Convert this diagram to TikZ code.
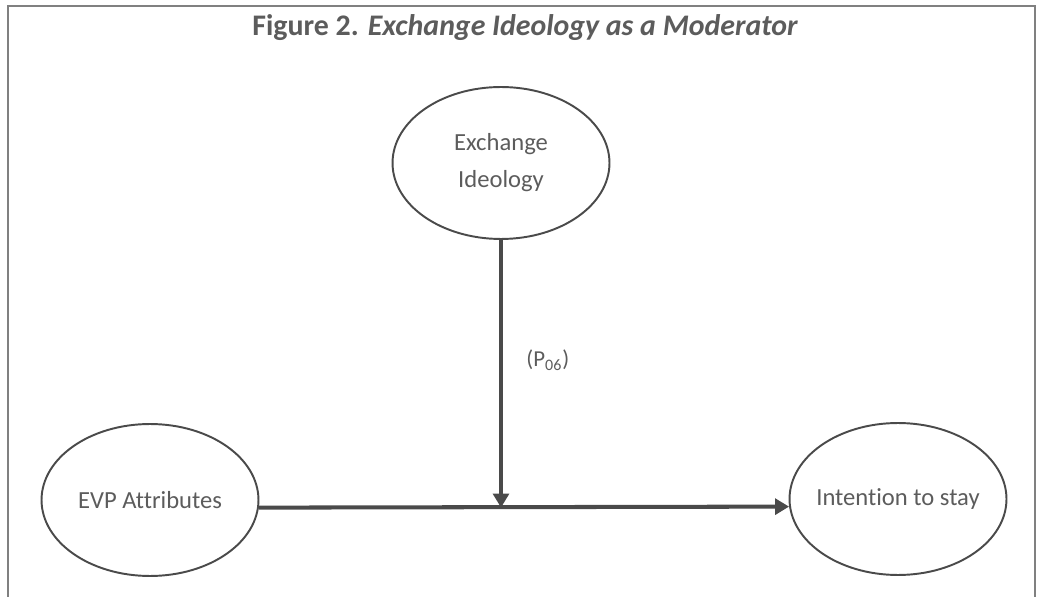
\documentclass[tikz,border=0pt]{standalone}
\usepackage{fontspec}
\setmainfont{Carlito}[Ligatures={NoCommon}]
\usetikzlibrary{shapes.geometric,arrows.meta}
\definecolor{inkgray}{HTML}{4A4A4A}
\definecolor{textgray}{HTML}{5C5C5C}
\begin{document}
\begin{tikzpicture}[x=0.02cm,y=-0.02cm]
    \tikzstyle{construct}=[draw=inkgray, line width=1.1pt, ellipse, inner xsep=-8pt,
      inner ysep=0pt, minimum width=4.34cm, minimum height=3.04cm, text=textgray,
      font=\fontsize{14}{21}\selectfont, align=center]
    \tikzstyle{path}=[draw=inkgray, line width=2.3pt,
      -{Triangle[length=8pt,width=9pt]}]
    \useasboundingbox (0,0) rectangle (1037,597);
    % frame
    \draw [gray, line width=1.2pt] (8,597) -- (8,6) -- (1035,6) -- (1035,597);
    \node (title) at (525,28) {\fontsize{17}{20}\selectfont\color{textgray}\bfseries
      Figure 2. \itshape Exchange Ideology as a Moderator};
    % constructs
    \node [construct] (ideo) at (501,163) {Exchange\\Ideology};
    \node [construct] (evp) at (150,500) {EVP Attributes};
    \node [construct] (stay) at (898,499) {Intention to stay};
    % paths
    \coordinate (mid) at (ideo.south |- evp.-4);
    \draw [path] (evp.-4) -- (stay.184);
    \draw [path] (ideo.south) -- (mid)
      node [pos=0.45, right=10pt, text=textgray, font=\fontsize{13}{15}\selectfont]
      {(P\textsubscript{06})};
\end{tikzpicture}
\end{document}
